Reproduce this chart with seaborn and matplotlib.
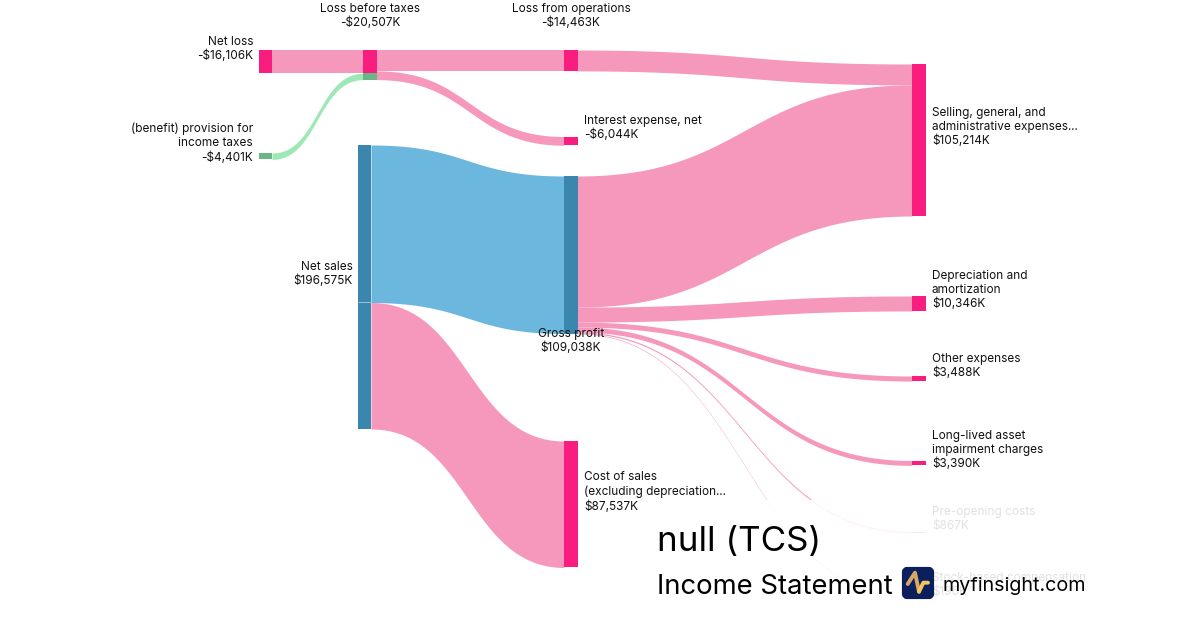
import numpy as np
import matplotlib
matplotlib.use("Agg")
import matplotlib.pyplot as plt
from matplotlib.patches import FancyBboxPatch, Rectangle
import seaborn as sns

# ----------------- Data -----------------
node_names = ["Net loss", "(benefit) provision for\nincome taxes", "Loss before taxes", "Net sales",
              "Loss from operations", "Interest expense, net", "Gross profit",
              "Cost of sales\n(excluding depreciation...",
              "Selling, general, and\nadministrative expenses...", "Depreciation and\namortization",
              "Other expenses", "Long-lived asset\nimpairment charges", "Pre-opening costs",
              "Stock-based compensation"]
node_values = [16106, 4401, 20507, 196575, 14463, 6044, 109038, 87537, 105214, 10346, 3488, 3390, 867, 196]
node_labels = ["-$16,106K", "-$4,401K", "-$20,507K", "$196,575K", "-$14,463K", "-$6,044K", "$109,038K",
               "$87,537K", "$105,214K", "$10,346K", "$3,488K", "$3,390K", "$867K", "$196K"]

link_sources = ["Net loss", "(benefit) provision for\nincome taxes", "Loss before taxes", "Loss before taxes",
                "Loss from operations", "Net sales", "Net sales", "Gross profit", "Gross profit", "Gross profit",
                "Gross profit", "Gross profit", "Gross profit"]
link_targets = ["Loss before taxes", "Loss before taxes", "Loss from operations", "Interest expense, net",
                "Selling, general, and\nadministrative expenses...", "Gross profit",
                "Cost of sales\n(excluding depreciation...", "Selling, general, and\nadministrative expenses...",
                "Depreciation and\namortization", "Other expenses", "Long-lived asset\nimpairment charges",
                "Pre-opening costs", "Stock-based compensation"]
link_values = [16106, 4401, 14463, 6044, 14463, 109038, 87537, 90751, 10346, 3488, 3390, 867, 196]
link_kinds = ["loss", "tax", "loss", "loss", "loss", "rev", "cost", "cost", "cost", "cost", "cost", "cost", "cost"]

# ----------------- Layout -----------------
px_per_k = 284 / 196575
node_w = 13.5
node_left = [258.5, 258.5, 363, 357.5, 564, 564, 564, 564, 912, 912, 912, 912, 912, 912]
node_top = [50, 153, 50, 145, 50, 136.5, 176, 441, 64, 296, 376, 460.5, 531.5, 597.5]

link_col = {"loss": "#f598bb", "cost": "#f598bb", "rev": "#6bb7dd", "tax": "#9de8b5"}
node_col = {"Net sales": "#3a86ad", "Gross profit": "#3a86ad", "(benefit) provision for\nincome taxes": "#69b585"}
pink = "#f91d7f"

sns.set_theme(style="white")
plt.rcParams["font.family"] = ["Inter", "DejaVu Sans"]
fig, ax = plt.subplots(figsize=(12, 6.3), dpi=100)
fig.subplots_adjust(0, 0, 1, 1)

# ----------------- Links -----------------
out_y = dict(zip(node_names, node_top))
in_y = dict(zip(node_names, node_top))
left = dict(zip(node_names, node_left))
t = np.linspace(0, 1, 200)
for src, dst, val, kind in zip(link_sources, link_targets, link_values, link_kinds):
    h = val * px_per_k
    x0 = left[src] + node_w
    x1 = left[dst]
    y0 = out_y[src]
    y1 = in_y[dst]
    # bezier with both control points half way across
    xs = x0 + (x1 - x0) * (1.5 * (1 - t) ** 2 * t + 1.5 * (1 - t) * t ** 2 + t ** 3)
    ys = y0 + (y1 - y0) * (3 * t ** 2 - 2 * t ** 3)
    # keep hairline links visible
    ax.fill_between(xs, ys, ys + max(h, 0.6), color=link_col[kind], lw=0, zorder=1)
    out_y[src] += h
    in_y[dst] += h

# ----------------- Nodes -----------------
for name, val, x, top in zip(node_names, node_values, node_left, node_top):
    sns.barplot(x=[x + node_w / 2], y=[val * px_per_k], bottom=top, width=node_w, native_scale=True,
                color=node_col.get(name, pink), saturation=1, ax=ax, zorder=2, linewidth=0)

# the tax part of the loss-before-taxes node
sns.barplot(x=[363 + node_w / 2], y=[4401 * px_per_k], bottom=50 + 16106 * px_per_k, width=node_w,
            native_scale=True, color="#69b585", saturation=1, ax=ax, zorder=2, linewidth=0)
ax.hlines(302, 357.5, 371, color="#8fc0d8", lw=0.8, zorder=3)

# ----------------- Labels -----------------
label_pos = [(253, 49, "right"), (253, 143, "right"), (370, 16, "center"), (353, 274, "right"),
             (571, 16, "center"), (584, 128, "left"), (571, 341, "center"), (584, 492, "left"),
             (932, 127, "left"), (932, 290, "left"), (932, 366, "left"), (932, 450, "left"),
             (932, 519, "left"), (932, 585, "left")]
for name, lab, (x, y, ha) in zip(node_names, node_labels, label_pos):
    ax.text(x, y, f"{name}\n{lab}", ha=ha, va="center", ma=ha, fontsize=8.5, color="#111111",
            linespacing=1.24, zorder=4)

# ----------------- Title box -----------------
ax.add_patch(Rectangle((645, 499.5), 460, 110, color="white", alpha=0.88, lw=0, zorder=5))
ax.text(657, 551, "null (TCS)", fontsize=25.2, color="black", va="baseline", zorder=6)
ax.text(657, 594, "Income Statement", fontsize=19.75, color="black", va="baseline", zorder=6)
ax.text(942, 591, "myfinsight.com", fontsize=14.2, color="black", va="baseline", zorder=6)

ax.add_patch(FancyBboxPatch((904, 569), 28, 28, boxstyle="round,pad=0,rounding_size=3", mutation_scale=1,
                            fc="#0a1f5c", ec="#0a1f5c", lw=3, joinstyle="round", zorder=6))
ax.plot([907.7, 915, 919], [584, 572.7, 591.7], color="#d9a765", lw=2.8, solid_capstyle="round",
        solid_joinstyle="round", zorder=7)
ax.plot([919, 923.3, 928], [591.7, 582.7, 582.7], color="#f4c65c", lw=2.8, solid_capstyle="round",
        solid_joinstyle="round", zorder=7)

ax.set_xlim(0, 1200)
ax.set_ylim(630, 0)
ax.set_xticks([])
ax.set_yticks([])
ax.set_xlabel("")
ax.set_ylabel("")
sns.despine(ax=ax, left=True, bottom=True)
fig.savefig("out.png", dpi=100)
